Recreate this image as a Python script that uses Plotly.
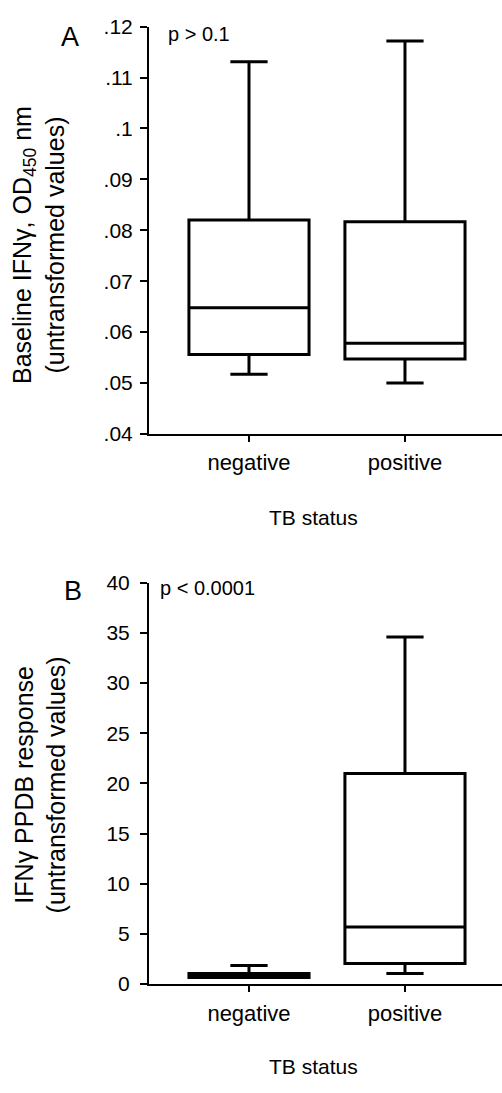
import plotly.graph_objects as go

W, H = 502, 1093

categories = ["negative", "positive"]

# Panel A: Baseline IFNγ OD450 (untransformed)
a_lower = [0.0517, 0.0500]
a_q1 = [0.0556, 0.0547]
a_median = [0.0648, 0.0578]
a_q3 = [0.0820, 0.0817]
a_upper = [0.1131, 0.1172]
a_tickvals = [0.04, 0.05, 0.06, 0.07, 0.08, 0.09, 0.10, 0.11, 0.12]
a_ticktext = [".04", ".05", ".06", ".07", ".08", ".09", ".1", ".11", ".12"]

# Panel B: IFNγ PPDB response (untransformed)
b_lower = [0.66, 1.05]
b_q1 = [0.66, 2.05]
b_median = [0.9, 5.7]
b_q3 = [1.06, 21.0]
b_upper = [1.86, 34.6]
b_tickvals = [0, 5, 10, 15, 20, 25, 30, 35, 40]
b_ticktext = ["0", "5", "10", "15", "20", "25", "30", "35", "40"]

FONT = "Liberation Sans, Arial, sans-serif"


def px_x(p):
    return p / W


def px_y(p):
    return 1 - p / H


fig = go.Figure()

box_style = dict(
    line=dict(color="black", width=3),
    fillcolor="white",
    width=0.77,
    whiskerwidth=0.31,
    boxpoints=False,
    showlegend=False,
    hoverinfo="skip",
)

fig.add_trace(go.Box(
    x=categories, q1=a_q1, median=a_median, q3=a_q3,
    lowerfence=a_lower, upperfence=a_upper,
    xaxis="x", yaxis="y", **box_style))

fig.add_trace(go.Box(
    x=categories, q1=b_q1, median=b_median, q3=b_q3,
    lowerfence=b_lower, upperfence=b_upper,
    xaxis="x2", yaxis="y2", **box_style))

xdom = [px_x(149), 1.0]
xrange_ = [-0.641, 1.622]

common_x = dict(
    type="category", categoryorder="array", categoryarray=categories,
    range=xrange_, domain=xdom, showgrid=False, zeroline=False,
    showline=True, linecolor="black", linewidth=2,
    ticks="outside", ticklen=6, tickwidth=2, tickcolor="black",
    tickfont=dict(family=FONT, size=22, color="black"),
    ticklabelstandoff=2,
    fixedrange=True,
)
common_y = dict(
    showgrid=False, zeroline=False,
    showline=True, linecolor="black", linewidth=2,
    ticks="outside", ticklen=7, tickwidth=2, tickcolor="black",
    tickfont=dict(family=FONT, size=21, color="black"),
    tickmode="array",
    fixedrange=True,
)

fig.update_layout(
    width=W, height=H,
    margin=dict(l=0, r=0, t=0, b=0),
    paper_bgcolor="white", plot_bgcolor="white",
    xaxis=dict(anchor="y", **common_x),
    yaxis=dict(anchor="x", domain=[px_y(431), px_y(15)], range=[0.04, 0.12],
               tickvals=a_tickvals, ticktext=a_ticktext,
               ticklabelstandoff=3, **common_y),
    xaxis2=dict(anchor="y2", **common_x),
    yaxis2=dict(anchor="x2", domain=[px_y(993), px_y(583)], range=[0, 40],
                tickvals=b_tickvals, ticktext=b_ticktext,
                ticklabelstandoff=6, **common_y),
)

ann_font = dict(family=FONT, color="black")
annotations = [
    dict(text="A", x=px_x(70), y=px_y(26), font=dict(size=27, **ann_font)),
    dict(text="B", x=px_x(73), y=px_y(591), font=dict(size=27, **ann_font)),
    dict(text="p > 0.1", x=px_x(166), y=px_y(22), xanchor="left",
         font=dict(size=20, **ann_font)),
    dict(text="p < 0.0001", x=px_x(158), y=px_y(588), xanchor="left",
         font=dict(size=20, **ann_font)),
    dict(text="TB status", x=px_x(313), y=px_y(516), font=dict(size=21, **ann_font)),
    dict(text="TB status", x=px_x(313), y=px_y(1077), font=dict(size=21, **ann_font)),
    dict(text="Baseline IFNγ, OD<sub>450</sub> nm<br>(untransformed values)",
         x=px_x(39), y=px_y(238), textangle=-90, font=dict(size=25, **ann_font)),
    dict(text="IFNγ PPDB response<br>(untransformed values)",
         x=px_x(40), y=px_y(790), textangle=-90, font=dict(size=25, **ann_font)),
]
for a in annotations:
    a.setdefault("xanchor", "center")
    a.setdefault("yanchor", "middle")
    a.update(xref="paper", yref="paper", showarrow=False)
fig.update_layout(annotations=annotations)

fig.write_html(
    "out.html",
    config={"displayModeBar": False, "responsive": False},
    post_script="document.body.style.margin='0';document.body.style.overflow='hidden';",
)
